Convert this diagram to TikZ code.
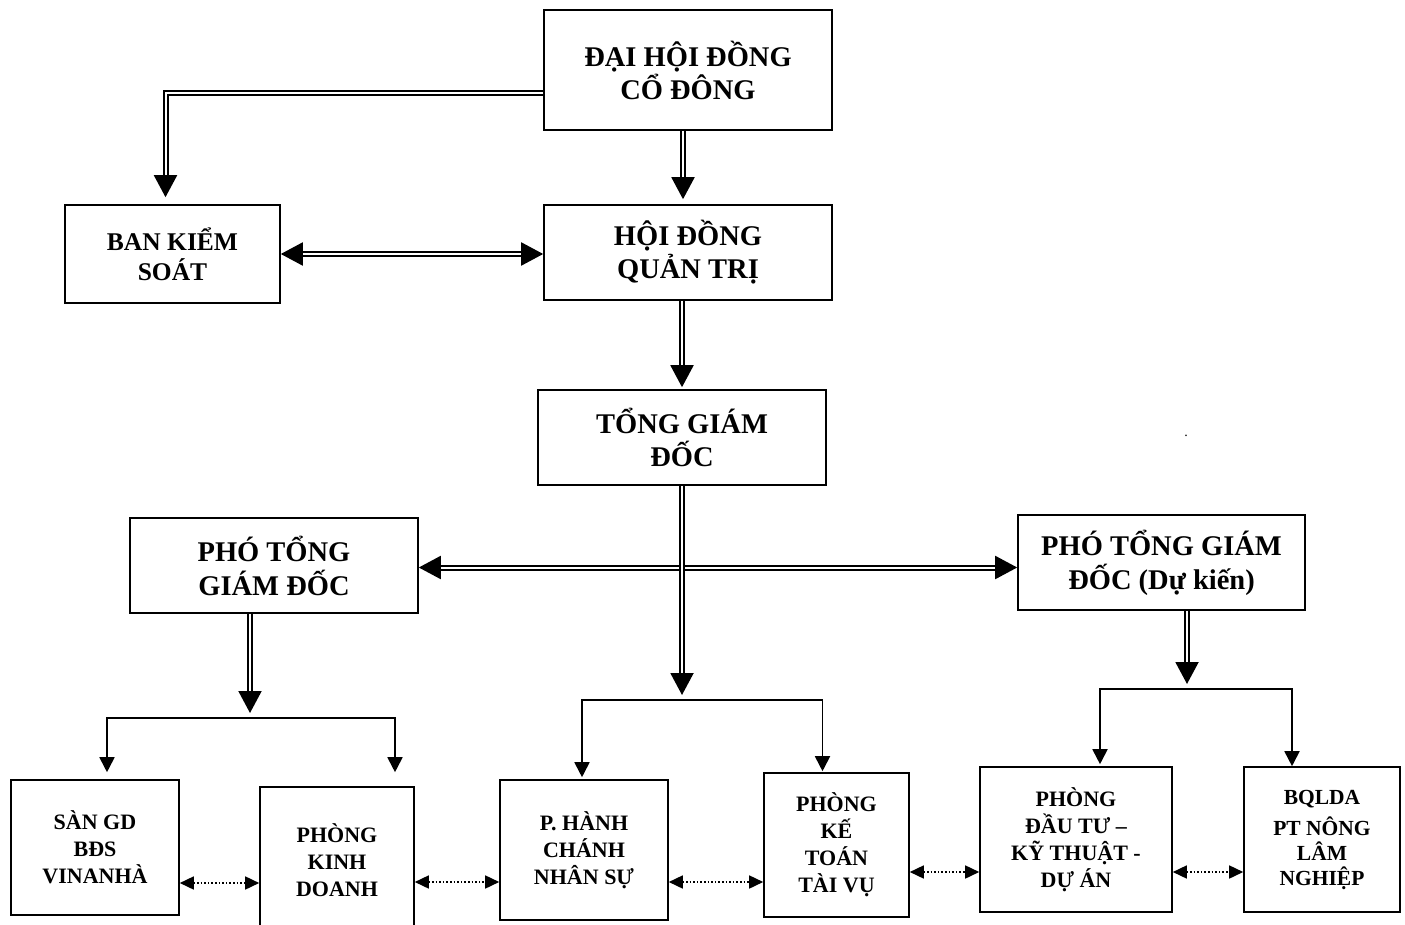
\documentclass[tikz,border=0pt]{standalone}
\usepackage{fontspec}
\setmainfont{Liberation Serif}
\usetikzlibrary{arrows.meta,positioning,calc}

\tikzset{
  box/.style={draw,line width=1.6pt,align=center,inner sep=0pt},
  bigbox/.style={box,font=\fontsize{28.5}{33}\selectfont\bfseries},
  midbox/.style={box,font=\fontsize{25.5}{30}\selectfont\bfseries},
  smallbox/.style={box,font=\fontsize{22}{27}\selectfont\bfseries},
  dline/.style={double,double distance=2pt,line width=2pt},
  dlarrow/.style={dline,-{Triangle[width=23pt,length=22pt]}},
  dlboth/.style={dline,{Triangle[width=23pt,length=22pt]}-{Triangle[width=23pt,length=22pt]}},
  sarrow/.style={line width=1.8pt,-{Triangle[width=15pt,length=15pt]}},
  dotarr/.style={line width=1.6pt,dash pattern=on 1.6pt off 2pt,{Triangle[width=13pt,length=14pt]}-{Triangle[width=13pt,length=14pt]}}
}

\begin{document}
\begin{tikzpicture}[x=1pt,y=-1pt]
        \useasboundingbox (0,0) rectangle (1405,925);
        \clip (0,0) rectangle (1405,925);

        % Top boxes
        \node[bigbox,minimum width=288pt,minimum height=120pt] (dhdcd) at (688,70) {ĐẠI HỘI ĐỒNG\\CỔ ĐÔNG};
        \node[bigbox,minimum width=288pt,minimum height=95pt] (hdqt) at (688,252.5) {HỘI ĐỒNG\\QUẢN TRỊ};
        \node[midbox,minimum width=215pt,minimum height=98pt] (bks) at (172.5,254) {BAN KIỂM\\SOÁT};
        \node[bigbox,minimum width=288pt,minimum height=95pt] (tgd) at (682,437.5) {TỔNG GIÁM\\ĐỐC};

        % Deputy directors
        \node[bigbox,font=\fontsize{28.5}{34}\selectfont\bfseries,minimum width=288pt,minimum height=95pt] (ptgd1) at (274,565.5) {PHÓ TỔNG\\GIÁM ĐỐC};
        \node[bigbox,font=\fontsize{28.5}{34}\selectfont\bfseries,minimum width=287pt,minimum height=95pt] (ptgd2) at (1161.5,562.5) {PHÓ TỔNG GIÁM\\ĐỐC (Dự kiến)};

        % Bottom boxes
        \node[smallbox,minimum width=168pt,minimum height=135pt] (san) at (95,847.5) {SÀN GD\\BĐS\\VINANHÀ};
        \node[smallbox,minimum width=154pt,minimum height=146pt] (pkd) at (337,860) {PHÒNG\\KINH\\DOANH};
        \node[smallbox,minimum width=168pt,minimum height=140pt] (phcns) at (584,850) {P. HÀNH\\CHÁNH\\NHÂN SỰ};
        \node[smallbox,minimum width=145pt,minimum height=144pt] (pkt) at (836.5,845) {PHÒNG\\KẾ\\TOÁN\\TÀI VỤ};
        \node[smallbox,minimum width=192pt,minimum height=145pt] (pdt) at (1076,839.5) {PHÒNG\\ĐẦU TƯ –\\KỸ THUẬT -\\DỰ ÁN};
        \node[box,font=\fontsize{21.5}{25}\selectfont\bfseries,minimum width=156pt,minimum height=145pt] (bqlda) at (1322,839.5) {BQLDA\\[6pt]PT NÔNG\\LÂM\\NGHIỆP};

        % stray dot
        \node[font=\fontsize{14}{16}\selectfont] (dot) at (1186,436) {.};

        % Junctions of the branches
        \coordinate (jleft) at (250,718);
        \coordinate (jmid) at (682,700);
        \coordinate (jright) at (1187,689);

        % Double arrows at the top
        \draw[dlarrow,shorten >=7pt] ([yshift=-23pt]dhdcd.west) -| ([xshift=-7pt]bks.north);
        \draw[dlarrow,shorten >=5pt] ([xshift=-5pt]dhdcd.south) -- ([xshift=-5pt]hdqt.north);
        \draw[dlboth] (bks.east) -- (bks.east -| hdqt.west);
        \draw[dlarrow,shorten >=2pt] (tgd.north |- hdqt.south) -- (tgd.north);
        \draw[dlboth] ([yshift=-2pt]ptgd1.east) -- ([yshift=-2pt]ptgd1.east -| ptgd2.west);

        % Double arrows down to the branches
        \draw[dlarrow,shorten >=5pt] ([xshift=-24pt]ptgd1.south) -- (jleft);
        \draw[dlarrow,shorten >=5pt] (tgd.south) -- (jmid);
        \draw[dlarrow,shorten >=5pt] ([xshift=25.5pt]ptgd2.south) -- (jright);

        % Branches
        \draw[sarrow,shorten >=7pt] (jleft) -| ([xshift=12pt]san.north);
        \draw[sarrow,shorten >=14pt] (jleft) -| ([xshift=58pt]pkd.north);
        \draw[sarrow,shorten >=2pt] (jmid) -| ([xshift=-2pt]phcns.north);
        \draw[sarrow,shorten >=1pt] (jmid) -| ([xshift=-14pt]pkt.north);
        \draw[sarrow,shorten >=2pt] (jright) -| ([xshift=24pt]pdt.north);
        \draw[sarrow] (jright) -| ([xshift=-30pt]bqlda.north);

        % Dotted links between the departments
        \draw[dotarr] ([yshift=-35.5pt]san.east) -- ([yshift=-35.5pt]san.east -| pkd.west);
        \draw[dotarr] ([yshift=-22pt]pkd.east) -- ([yshift=-22pt]pkd.east -| phcns.west);
        \draw[dotarr] ([yshift=-32pt]phcns.east) -- ([yshift=-32pt]phcns.east -| pkt.west);
        \draw[dotarr] ([yshift=-27pt]pkt.east) -- ([yshift=-27pt]pkt.east -| pdt.west);
        \draw[dotarr] ([yshift=-32.5pt]pdt.east) -- ([yshift=-32.5pt]pdt.east -| bqlda.west);
    \end{tikzpicture}
\end{document}
